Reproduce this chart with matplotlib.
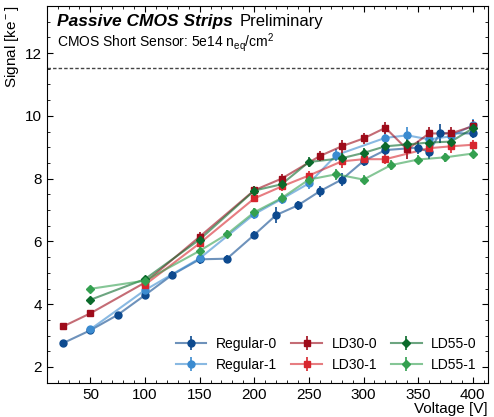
import numpy as np
import matplotlib
matplotlib.use("Agg")
import matplotlib.pyplot as plt
from matplotlib.legend_handler import HandlerTuple

plt.rcParams['font.family'] = ['Liberation Sans', 'DejaVu Sans']
plt.rcParams['mathtext.fontset'] = 'custom'
plt.rcParams['mathtext.rm'] = 'Liberation Sans'
plt.rcParams['mathtext.it'] = 'Liberation Sans:italic'
plt.rcParams['mathtext.bf'] = 'Liberation Sans:bold'

# signal vs bias voltage for each sensor
v_reg0 = [25, 50, 75, 100, 125, 150, 175, 200, 220, 240, 260, 280, 300, 320, 350, 360, 370, 400]
s_reg0 = [2.76, 3.17, 3.66, 4.29, 4.94, 5.43, 5.45, 6.21, 6.84, 7.15, 7.60, 7.97, 8.56, 8.91, 8.99, 8.85, 9.45, 9.44]
e_reg0 = [0.05, 0.05, 0.1, 0.08, 0.12, 0.15, 0.12, 0.12, 0.25, 0.15, 0.17, 0.2, 0.15, 0.17, 0.2, 0.22, 0.3, 0.15]

v_reg1 = [50, 100, 150, 200, 225, 250, 275, 320, 340, 360, 380, 400]
s_reg1 = [3.20, 4.45, 5.46, 6.87, 7.35, 7.85, 8.75, 9.30, 9.38, 9.25, 9.35, 9.70]
e_reg1 = [0.05, 0.08, 0.15, 0.15, 0.15, 0.17, 0.2, 0.2, 0.25, 0.2, 0.2, 0.2]

v_ld30_0 = [25, 50, 100, 150, 200, 225, 260, 280, 300, 320, 340, 360, 380, 400]
s_ld30_0 = [3.29, 3.71, 4.69, 6.15, 7.63, 8.00, 8.72, 9.03, 9.28, 9.62, 8.93, 9.44, 9.44, 9.67]
e_ld30_0 = [0.05, 0.05, 0.1, 0.15, 0.12, 0.15, 0.17, 0.2, 0.17, 0.2, 0.3, 0.2, 0.2, 0.2]

v_ld30_1 = [100, 150, 200, 225, 250, 280, 300, 320, 360, 380, 400]
s_ld30_1 = [4.62, 5.94, 7.37, 7.75, 8.10, 8.55, 8.62, 8.62, 8.97, 9.03, 9.08]
e_ld30_1 = [0.08, 0.12, 0.12, 0.15, 0.15, 0.2, 0.15, 0.15, 0.2, 0.2, 0.15]

v_ld55_0 = [50, 100, 150, 200, 225, 250, 280, 300, 320, 340, 360, 380, 400]
s_ld55_0 = [4.14, 4.80, 6.06, 7.62, 7.82, 8.53, 8.65, 8.82, 9.03, 9.09, 9.15, 9.18, 9.60]
e_ld55_0 = [0.08, 0.1, 0.12, 0.15, 0.15, 0.17, 0.17, 0.17, 0.17, 0.2, 0.2, 0.2, 0.2]

v_ld55_1 = [50, 100, 150, 175, 200, 225, 250, 275, 300, 325, 350, 375, 400]
s_ld55_1 = [4.49, 4.75, 5.70, 6.23, 6.93, 7.38, 7.97, 8.14, 7.97, 8.43, 8.61, 8.68, 8.80]
e_ld55_1 = [0.08, 0.08, 0.12, 0.12, 0.12, 0.15, 0.15, 0.17, 0.15, 0.15, 0.15, 0.15, 0.15]

labels = ['Regular-0', 'Regular-1', 'LD30-0', 'LD30-1', 'LD55-0', 'LD55-1']
colors = ['#0d4a8f', '#3b8bd0', '#9e0b1a', '#d7262e', '#0b6a2b', '#34a050']
markers = ['o', 'o', 's', 's', 'D', 'D']
series = [(v_reg0, s_reg0, e_reg0), (v_reg1, s_reg1, e_reg1),
          (v_ld30_0, s_ld30_0, e_ld30_0), (v_ld30_1, s_ld30_1, e_ld30_1),
          (v_ld55_0, s_ld55_0, e_ld55_0), (v_ld55_1, s_ld55_1, e_ld55_1)]

fig = plt.figure(figsize=(4.94, 4.17), dpi=100)
ax = fig.add_axes([0.0945, 0.0823, 0.8935, 0.9033])

handles = []
for (v, s, e), lab, c, m in zip(series, labels, colors, markers):
    ln, = ax.plot(v, s, '-', color=c, lw=1.5, alpha=0.6)
    ms = 4.2 if m == 'D' else 5
    eb = ax.errorbar(v, s, yerr=e, fmt=m, color=c, ms=ms, elinewidth=1.2, capsize=0)
    handles.append((ln, eb))

ax.axhline(11.53, color='#444444', ls='--', lw=1, dashes=(2.5, 1.5))

ax.set_xlim(10, 414)
ax.set_ylim(1.5, 13.5)
ax.set_xticks([50, 100, 150, 200, 250, 300, 350, 400])
ax.set_xticks(np.arange(10, 414, 10), minor=True)
ax.set_yticks([2, 4, 6, 8, 10, 12])
ax.set_yticks(np.arange(1.5, 13.6, 0.5), minor=True)
ax.tick_params(which='both', direction='in', top=True, right=True, labelsize=11)
ax.tick_params(which='major', length=4)
ax.tick_params(which='minor', length=2)

ax.set_xlabel('Voltage [V]', loc='right', fontsize=11, labelpad=0)
ax.set_ylabel('Signal [ke$^-$]', loc='top', fontsize=11, labelpad=3)

t1 = ax.text(0.023, 0.948, 'Passive CMOS Strips', transform=ax.transAxes,
             fontsize=12.5, fontweight='bold', fontstyle='italic', va='baseline')
ax.annotate('Preliminary', xy=(1, 0), xycoords=t1, xytext=(5, 0),
            textcoords='offset points', fontsize=12, va='bottom')
ax.text(0.023, 0.893, 'CMOS Short Sensor: 5e14 n$_{\\mathrm{eq}}$/cm$^2$', transform=ax.transAxes,
        fontsize=10, va='baseline')

ax.legend(handles, labels, handler_map={tuple: HandlerTuple(ndivide=1)}, ncol=3,
          loc='lower right', frameon=False, fontsize=10, columnspacing=1.0,
          handlelength=2.2, handletextpad=0.7, borderaxespad=0.4)

fig.savefig('out.png', dpi=100)
